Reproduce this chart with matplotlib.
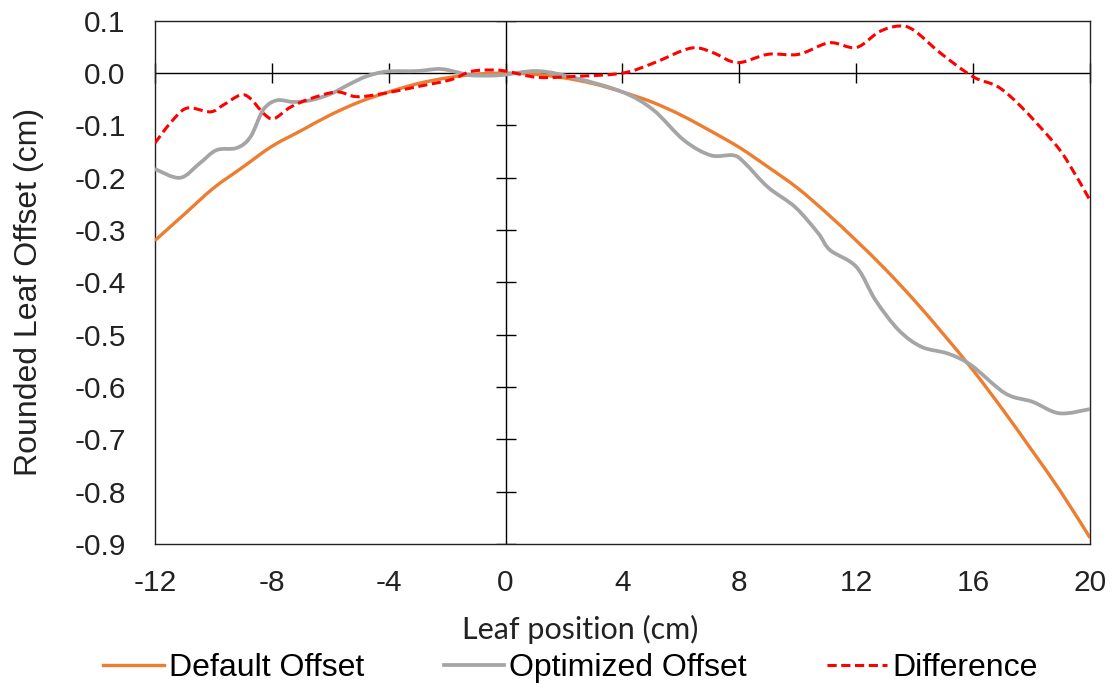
import numpy as np
import matplotlib
matplotlib.use("Agg")
import matplotlib.pyplot as plt
from matplotlib.path import Path
from matplotlib.patches import PathPatch

# values
x_default = np.arange(-12, 21, 1)
y_default = [-0.32, -0.27, -0.22, -0.18, -0.14, -0.11, -0.08, -0.055, -0.036, -0.02,
             -0.009, -0.002, 0.0, -0.002, -0.009, -0.02, -0.036, -0.055, -0.08, -0.11,
             -0.142, -0.18, -0.22, -0.268, -0.32, -0.375, -0.435, -0.50, -0.568, -0.642,
             -0.72, -0.80, -0.888]

x_opt = [-12, -11.14, -10.46, -9.89, -9.2, -8.73, -8.29, -7.83, -7.27, -6.69, -6.0,
         -5.3, -4.75, -4.07, -3.04, -2.25, -1.67, -1.2, -0.2, 1.1, 2.43, 4.0, 5.05,
         6.1, 7.02, 7.8, 8.19, 8.98, 9.91, 10.7, 11.1, 12.0, 12.66, 13.45, 14.23,
         15.14, 15.93, 17.1, 18.03, 18.95, 20]
y_opt = [-0.183, -0.2, -0.172, -0.147, -0.143, -0.122, -0.07, -0.052, -0.055, -0.052,
         -0.04, -0.02, -0.006, 0.003, 0.004, 0.008, 0.002, -0.004, -0.004, 0.004,
         -0.01, -0.036, -0.07, -0.128, -0.157, -0.157, -0.172, -0.218, -0.256, -0.306,
         -0.338, -0.37, -0.434, -0.491, -0.523, -0.536, -0.558, -0.612, -0.628, -0.65,
         -0.642]

x_diff = [-12, -11.48, -10.91, -10.1, -9.66, -9.08, -8.74, -8.28, -7.93, -7.36, -6.69,
          -5.78, -5.1, -4.19, -3.04, -1.9, -1.2, -0.53, 0.0, 1.1, 2.43, 4.0, 5.05,
          6.1, 6.6, 7.15, 7.94, 8.98, 10.03, 11.08, 12.0, 12.78, 13.45, 13.97, 14.89,
          16.0, 16.85, 17.64, 18.69, 19.2, 20]
y_diff = [-0.134, -0.096, -0.067, -0.074, -0.061, -0.042, -0.048, -0.077, -0.087,
          -0.065, -0.049, -0.036, -0.045, -0.039, -0.026, -0.013, 0.003, 0.006, 0.004,
          -0.008, -0.006, 0.0, 0.019, 0.044, 0.048, 0.038, 0.02, 0.036, 0.036, 0.058,
          0.049, 0.079, 0.09, 0.082, 0.038, -0.007, -0.026, -0.064, -0.128, -0.166,
          -0.243]

xticks = np.arange(-12, 21, 4)
yticks = np.round(np.arange(-0.9, 0.11, 0.1), 1)

plt.rcParams['font.family'] = ['Liberation Sans', 'DejaVu Sans']
plt.rcParams['axes.unicode_minus'] = False


def smooth_path(xs, ys):
    # excel-style smoothed line: bezier segments through the points
    p = np.column_stack([xs, ys]).astype(float)
    p = np.vstack([p[0], p, p[-1]])
    verts = [p[1]]
    codes = [Path.MOVETO]
    for i in range(1, len(p) - 2):
        c1 = p[i] + (p[i + 1] - p[i - 1]) / 6
        c2 = p[i + 1] - (p[i + 2] - p[i]) / 6
        verts += [c1, c2, p[i + 1]]
        codes += [Path.CURVE4] * 3
    return Path(verts, codes)


fig = plt.figure(figsize=(11.14, 6.94), dpi=100)
ax = fig.add_axes([0.139, 0.216, 0.8395, 0.754])

series = [
    (x_default, y_default, dict(color='#ED7D31', lw=2.4, label='Default Offset'), 3),
    (x_opt, y_opt, dict(color='#A5A5A5', lw=2.7, label='Optimized Offset'), 4),
    (x_diff, y_diff, dict(color='#FF0000', lw=2.2, ls=(0, (3, 1.5)), label='Difference'), 5),
]
for xs, ys, st, z in series:
    ax.add_patch(PathPatch(smooth_path(xs, ys), fill=False, edgecolor=st['color'],
                           lw=st['lw'], ls=st.get('ls', '-'), zorder=z, capstyle='butt'))
    ax.plot([], [], **st)

ax.set_xlim(-12, 20)
ax.set_ylim(-0.9, 0.1)
ax.set_xticks(xticks)
ax.set_yticks(yticks)
ax.set_yticklabels([f'{abs(v) if v == 0 else v:.1f}' for v in yticks])
ax.tick_params(length=0, labelsize=21.5, colors='#222222')
ax.tick_params(axis='x', pad=18)
ax.tick_params(axis='y', pad=21)
for s in ax.spines.values():
    s.set_linewidth(1.0)
    s.set_color('#222222')

# axes through the origin with crossing tick marks
ax.axhline(0, color='black', lw=1.0, zorder=2)
ax.axvline(0, color='black', lw=1.0, zorder=2)
ax.plot(xticks, np.zeros(len(xticks)), ls='none', marker='|', ms=14, mew=1.0,
        color='black', zorder=2, clip_on=False)
ax.plot(np.zeros(len(yticks)), yticks, ls='none', marker='_', ms=14, mew=1.0,
        color='black', zorder=2)

ax.set_xlabel('Leaf position (cm)', family='Lato', fontsize=22, color='#222222')
ax.xaxis.set_label_coords(0.4545, -0.135)
ax.set_ylabel('Rounded Leaf Offset (cm)', fontsize=23, color='#222222')
ax.yaxis.set_label_coords(-0.118, 0.482)

fig.legend(loc='center', bbox_to_anchor=(0.512, 0.037), ncol=3, frameon=False,
           fontsize=23, handlelength=1.9, handletextpad=0.15, columnspacing=2.5)

plt.savefig('out.png', dpi=100)
